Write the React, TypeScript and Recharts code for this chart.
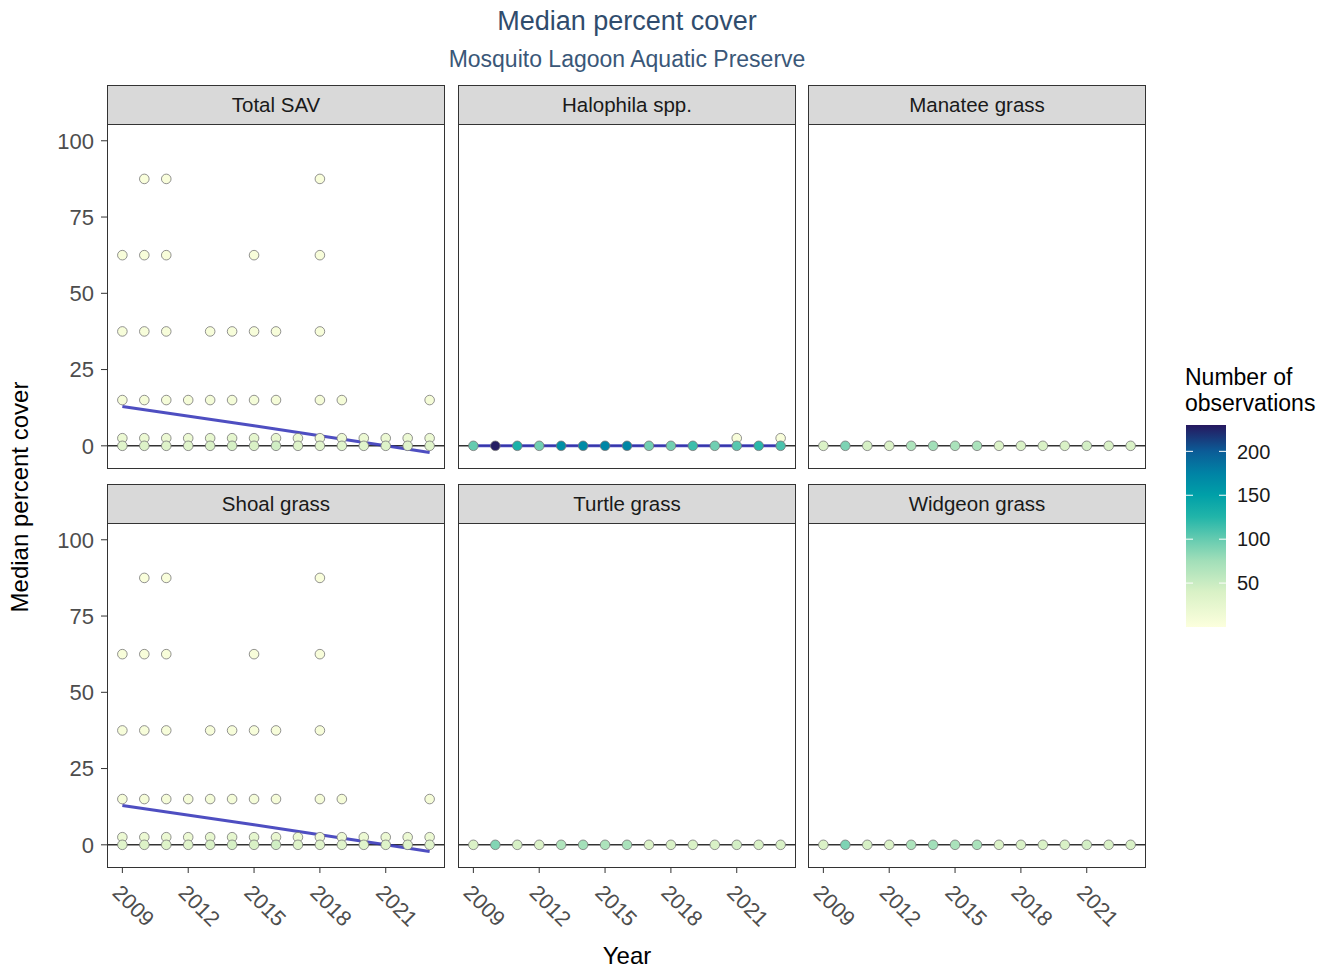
import React from "react";
import { ComposedChart, Scatter, Line, XAxis, YAxis, ReferenceLine } from "recharts";

const years = [2009, 2010, 2011, 2012, 2013, 2014, 2015, 2016, 2017, 2018, 2019, 2020, 2021, 2022, 2023];
const xTicks = [2009, 2012, 2015, 2018, 2021];
const yTicks = [0, 25, 50, 75, 100];
const legendTicks = [50, 100, 150, 200];

const totalSav: [number, number, number][] = [
  [2010, 87.5, 4], [2011, 87.5, 4], [2018, 87.5, 4],
  [2009, 62.5, 5], [2010, 62.5, 5], [2011, 62.5, 5], [2015, 62.5, 5], [2018, 62.5, 5],
  [2009, 37.5, 6], [2010, 37.5, 6], [2011, 37.5, 6], [2013, 37.5, 6], [2014, 37.5, 6],
  [2015, 37.5, 6], [2016, 37.5, 6], [2018, 37.5, 6],
  [2009, 15, 8], [2010, 15, 8], [2011, 15, 8], [2012, 15, 8], [2013, 15, 9], [2014, 15, 9],
  [2015, 15, 9], [2016, 15, 8], [2018, 15, 8], [2019, 15, 8], [2023, 15, 8],
  [2009, 2.5, 18], [2010, 2.5, 18], [2011, 2.5, 18], [2012, 2.5, 18], [2013, 2.5, 24],
  [2014, 2.5, 26], [2015, 2.5, 26], [2016, 2.5, 22], [2017, 2.5, 18], [2018, 2.5, 16],
  [2019, 2.5, 18], [2020, 2.5, 18], [2021, 2.5, 18], [2022, 2.5, 18], [2023, 2.5, 18],
  [2009, 0, 32], [2010, 0, 36], [2011, 0, 34], [2012, 0, 32], [2013, 0, 40], [2014, 0, 42],
  [2015, 0, 40], [2016, 0, 46], [2017, 0, 34], [2018, 0, 32], [2019, 0, 32], [2020, 0, 32],
  [2021, 0, 34], [2022, 0, 32], [2023, 0, 32],
];
const totalSavTrend = [
  { year: 2009, v: 12.9 }, { year: 2015, v: 6.6 }, { year: 2018, v: 3.3 },
  { year: 2021, v: 0 }, { year: 2023, v: -2.2 },
];

const halophilaN = [100, 228, 130, 95, 165, 168, 172, 172, 95, 95, 115, 95, 105, 122, 110];
const halophila: [number, number, number][] = [
  [2021, 2.5, 5], [2023, 2.5, 5],
  ...years.map((y, i) => [y, 0, halophilaN[i]] as [number, number, number]),
];
const halophilaTrend = [{ year: 2009, v: 0 }, { year: 2023, v: 0 }];

const manateeN = [38, 90, 42, 38, 68, 75, 70, 70, 38, 40, 40, 40, 44, 40, 40];
const turtleN = [38, 88, 42, 38, 66, 74, 68, 70, 38, 40, 40, 40, 44, 40, 40];
const widgeonN = [38, 90, 42, 38, 68, 75, 70, 70, 38, 40, 40, 40, 44, 40, 40];
const atZero = (n: number[]) => years.map((y, i) => [y, 0, n[i]] as [number, number, number]);

// shoal grass is the same as total SAV in this preserve
const shoalGrass = totalSav;
const shoalTrend = totalSavTrend;

const FONT = "'Liberation Sans', Arial, sans-serif";
const nMax = 230;
const stops: [number, string][] = [
  [0, "#FCFFDD"], [40, "#D9F1C6"], [75, "#A2DFB9"], [100, "#65CBB0"], [125, "#22B5A9"],
  [150, "#00A0A8"], [175, "#0083A5"], [200, "#0B5C97"], [230, "#26185F"],
];

const hex = (c: string) => [1, 3, 5].map((i) => parseInt(c.slice(i, i + 2), 16));
function colorFor(n: number) {
  for (let i = 1; i < stops.length; i++) {
    if (n <= stops[i][0]) {
      const [a, ca] = stops[i - 1];
      const [b, cb] = stops[i];
      const t = (n - a) / (b - a);
      const A = hex(ca), B = hex(cb);
      return `rgb(${A.map((v, k) => Math.round(v + (B[k] - v) * t)).join(",")})`;
    }
  }
  return stops[stops.length - 1][1];
}

const panels = [
  { title: "Total SAV", pts: totalSav, trend: totalSavTrend },
  { title: "Halophila spp.", pts: halophila, trend: halophilaTrend },
  { title: "Manatee grass", pts: atZero(manateeN), trend: null },
  { title: "Shoal grass", pts: shoalGrass, trend: shoalTrend },
  { title: "Turtle grass", pts: atZero(turtleN), trend: null },
  { title: "Widgeon grass", pts: atZero(widgeonN), trend: null },
];

const colLeft = [107, 458, 808];
const rowTop = [124, 523];
const plotW = 338;
const plotH = 345;
const yAxisW = 107;
const xAxisH = 100;

const Dot = (p: any) => (
  <circle cx={p.cx} cy={p.cy} r={4.8} fill={colorFor(p.payload.n)} stroke="#777" strokeWidth={0.8} />
);

const YearTick = (p: any) => {
  const ax = p.x - 11;
  const ay = p.y + 19;
  return (
    <text x={ax} y={ay} transform={`rotate(45 ${ax} ${ay})`} fontSize={21.5} fill="#4d4d4d" fontFamily={FONT}>
      {p.payload.value}
    </text>
  );
};

function Panel({ idx }: { idx: number }) {
  const cfg = panels[idx];
  const col = idx % 3;
  const row = Math.floor(idx / 3);
  const left = col === 0 ? 0 : colLeft[col];
  const width = (col === 0 ? yAxisW : 0) + plotW;
  const height = plotH + (row === 1 ? xAxisH : 0);
  const data = cfg.pts
    .map(([year, v, n]) => ({ year, v, n }))
    .sort((a, b) => b.v - a.v);
  return (
    <>
      <div
        style={{
          position: "absolute", left: colLeft[col], top: rowTop[row] - 39, width: plotW, height: 40,
          boxSizing: "border-box", border: "1px solid #333", background: "#d9d9d9",
          display: "flex", alignItems: "center", justifyContent: "center",
          fontSize: 20.5, color: "#1a1a1a", fontFamily: FONT,
        }}
      >
        {cfg.title}
      </div>
      <div style={{ position: "absolute", left, top: rowTop[row] }}>
        <ComposedChart width={width} height={height} margin={{ top: 0, right: 0, bottom: 0, left: 0 }}>
          <XAxis
            type="number" dataKey="year" domain={[2008.3, 2023.7]} ticks={xTicks} allowDataOverflow
            hide={row === 0} height={xAxisH} axisLine={false} tickLine={{ stroke: "#333" }}
            tickSize={5} tick={<YearTick />} interval={0}
          />
          <YAxis
            type="number" domain={[-7.6, 105.5]} ticks={yTicks} allowDataOverflow
            hide={col !== 0} width={yAxisW} axisLine={false} tickLine={{ stroke: "#333" }}
            tickSize={6} tickMargin={7} interval={0}
            tick={{ fontSize: 22, fill: "#4d4d4d", fontFamily: FONT }}
          />
          <Scatter data={data} dataKey="v" shape={<Dot />} isAnimationActive={false} />
          <ReferenceLine y={0} stroke="#333" strokeWidth={1.6} />
          {cfg.trend && (
            <Line
              data={cfg.trend} dataKey="v" type="linear" stroke="#3535b8" strokeOpacity={0.88}
              strokeWidth={3} dot={false} activeDot={false} isAnimationActive={false}
            />
          )}
        </ComposedChart>
      </div>
      <div
        style={{
          position: "absolute", left: colLeft[col], top: rowTop[row], width: plotW, height: plotH,
          boxSizing: "border-box", border: "1px solid #333", pointerEvents: "none",
        }}
      />
    </>
  );
}

function ColorBar() {
  const x = 1186, top = 425, bottom = 627, w = 40;
  const yOf = (n: number) => bottom - (n / nMax) * (bottom - top);
  return (
    <svg style={{ position: "absolute", left: 0, top: 0 }} width={1330} height={973}>
      <defs>
        <linearGradient id="obsGrad" x1="0" y1="1" x2="0" y2="0">
          {stops.map(([n, c]) => (
            <stop key={n} offset={n / nMax} stopColor={c} />
          ))}
        </linearGradient>
      </defs>
      <rect x={x} y={top} width={w} height={bottom - top} fill="url(#obsGrad)" />
      {legendTicks.map((t) => (
        <g key={t}>
          <line x1={x} x2={x + 7} y1={yOf(t)} y2={yOf(t)} stroke="#fff" strokeWidth={1} />
          <line x1={x + w - 7} x2={x + w} y1={yOf(t)} y2={yOf(t)} stroke="#fff" strokeWidth={1} />
          <text x={1237} y={yOf(t)} dy="0.36em" fontSize={20} fill="#1a1a1a" fontFamily={FONT}>
            {t}
          </text>
        </g>
      ))}
    </svg>
  );
}

export default function App() {
  return (
    <div style={{ position: "absolute", left: 0, top: 0, width: 1330, height: 973, background: "#fff", fontFamily: FONT }}>
      <div style={{ position: "absolute", left: 0, width: 1254, top: 6, textAlign: "center", fontSize: 27, color: "#304c6d" }}>
        Median percent cover
      </div>
      <div style={{ position: "absolute", left: 0, width: 1254, top: 46, textAlign: "center", fontSize: 23, color: "#3a5778" }}>
        Mosquito Lagoon Aquatic Preserve
      </div>
      <ColorBar />
      {panels.map((_, i) => (
        <Panel key={i} idx={i} />
      ))}
      <div
        style={{
          position: "absolute", left: 20, top: 497, transform: "translate(-50%, -50%) rotate(-90deg)",
          whiteSpace: "nowrap", fontSize: 24, color: "#000",
        }}
      >
        Median percent cover
      </div>
      <div style={{ position: "absolute", left: 0, width: 1254, top: 942, textAlign: "center", fontSize: 24, color: "#000" }}>
        Year
      </div>
      <div style={{ position: "absolute", left: 1185, top: 364, fontSize: 23, lineHeight: "26px", color: "#000" }}>
        Number of
        <br />
        observations
      </div>
    </div>
  );
}
